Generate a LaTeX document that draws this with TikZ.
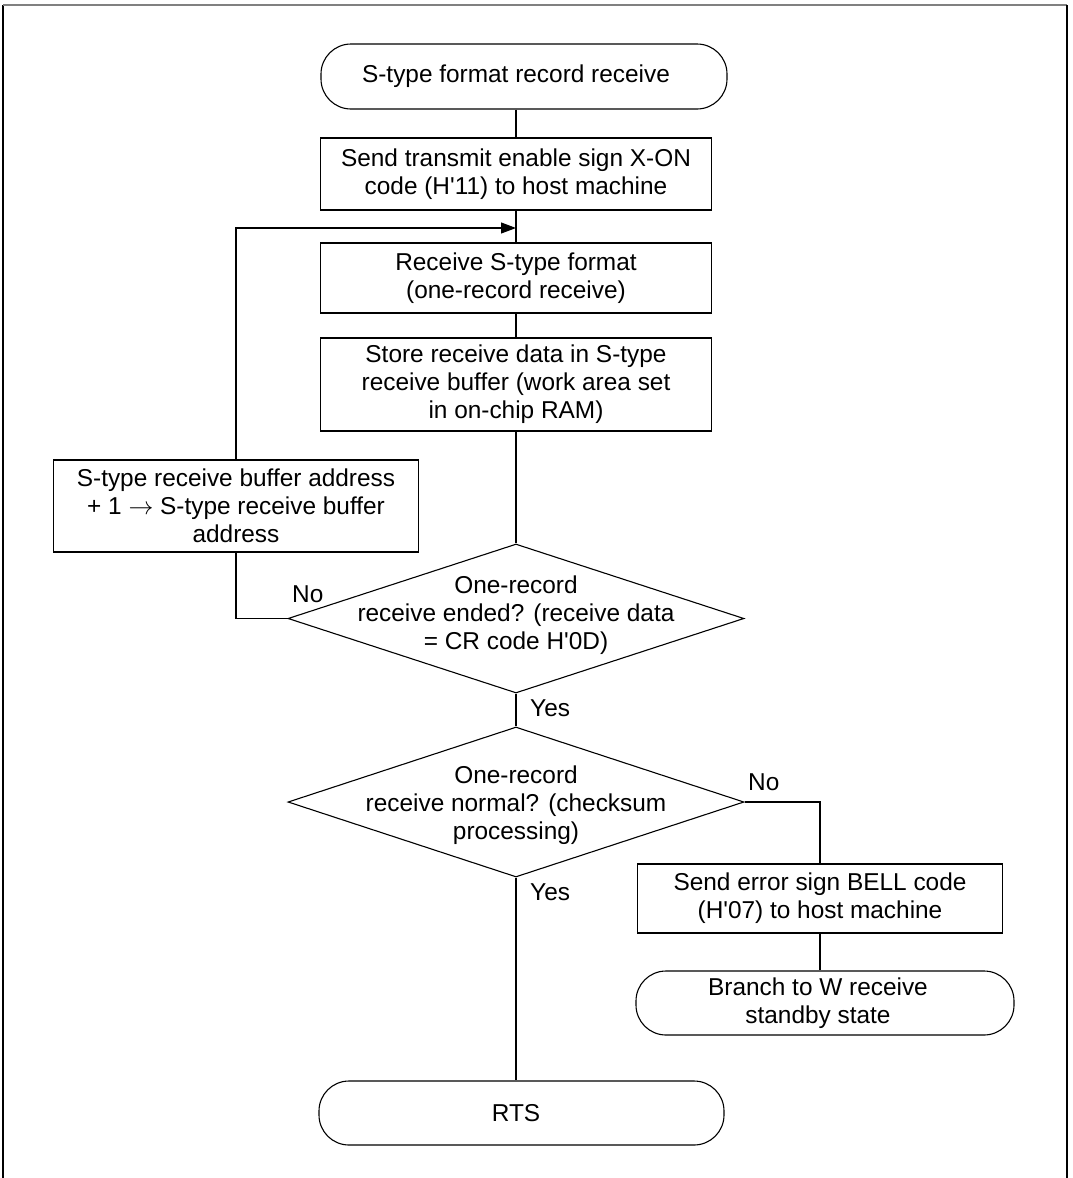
\documentclass[tikz,border=0pt]{standalone}
\usepackage{fontspec}
\setmainfont{Liberation Sans}
\usetikzlibrary{arrows.meta,shapes.geometric}
\begin{document}
\begin{tikzpicture}[x=1pt,y=-1pt,
  txt/.style={font=\fontsize{24.4}{28}\selectfont, inner sep=0pt, align=center},
  proc/.style={txt, draw, line width=1.1pt},
  term/.style={draw, line width=1.1pt, inner sep=0pt, rounded corners=30pt},
  dec/.style={draw, diamond, line width=1.1pt, inner sep=0pt},
  lbl/.style={font=\fontsize{24.4}{28}\selectfont, inner sep=0pt},
  conn/.style={line width=1.1pt},
  frameline/.style={line width=1.3pt}
]
\useasboundingbox (0,0) rectangle (1073,1178);
% frame
\draw[frameline] (3,1178) -- (3,5);
\draw[frameline, gray] (3,5) -- (1067,5);
\draw[frameline] (1067,5) -- (1067,1178);

% nodes
\node[term, minimum width=406pt, minimum height=65pt] (start) at (524,76.5) {};
\node[txt] (startt) at (516,76.5) {S-type format record receive};
\node[proc, minimum width=391pt, minimum height=72pt] (b1) at (516,174)
  {Send transmit enable sign X-ON\\code (H\textquotesingle 11) to host machine};
\node[proc, minimum width=391pt, minimum height=70pt] (b2) at (516,278)
  {Receive S-type format\\(one-record receive)};
\node[proc, minimum width=391pt, minimum height=93pt] (b3) at (516,384.5)
  {Store receive data in S-type\\receive buffer (work area set\\in on-chip RAM)};
\node[proc, minimum width=365pt, minimum height=92pt] (lb) at (236,506)
  {S-type receive buffer address\\+ 1 $\rightarrow$ S-type receive buffer\\address};
\node[dec, minimum width=456pt, minimum height=149pt] (d1) at (516,618.5) {};
\node[txt] (d1t) at (516,615)
  {One-record\\receive ended? (receive data\\= CR code H\textquotesingle 0D)};
\node[dec, minimum width=456pt, minimum height=150pt] (d2) at (516,802) {};
\node[txt] (d2t) at (516,805)
  {One-record\\receive normal? (checksum\\processing)};
\node[proc, minimum width=365pt, minimum height=69pt] (b4) at (820,898.5)
  {Send error sign BELL code\\(H\textquotesingle 07) to host machine};
\node[term, minimum width=378pt, minimum height=64pt] (t2) at (825,1003) {};
\node[txt] (t2t) at (818,1003) {Branch to W receive\\standby state};
\node[term, minimum width=405pt, minimum height=64pt] (rts) at (521.5,1113) {};
\node[txt] (rtst) at (516,1113) {RTS};

% labels
\node[lbl, anchor=base west] (no1) at (292,602) {No};
\node[lbl, anchor=base west] (yes1) at (530,716) {Yes};
\node[lbl, anchor=base west] (no2) at (748,790) {No};
\node[lbl, anchor=base west] (yes2) at (530,900) {Yes};

% connectors
\coordinate (join) at (516,228);
\draw[conn] (start.south -| b1.north) -- (b1.north);
\draw[conn] (b1.south) -- (b2.north);
\draw[conn] (b2.south) -- (b3.north);
\draw[conn] (b3.south) -- (d1.north);
\draw[conn] (d1.south) -- (d2.north);
\draw[conn] (d2.south) -- (rts.north -| d2.south);
\draw[conn] (d2.east) -| (b4.north);
\draw[conn] (b4.south) -- (t2.north -| b4.south);
\draw[conn] (d1.west) -| (lb.south);
\draw[conn, -{Triangle[length=15pt,width=11pt]}] (lb.north) |- (join);
\end{tikzpicture}
\end{document}
